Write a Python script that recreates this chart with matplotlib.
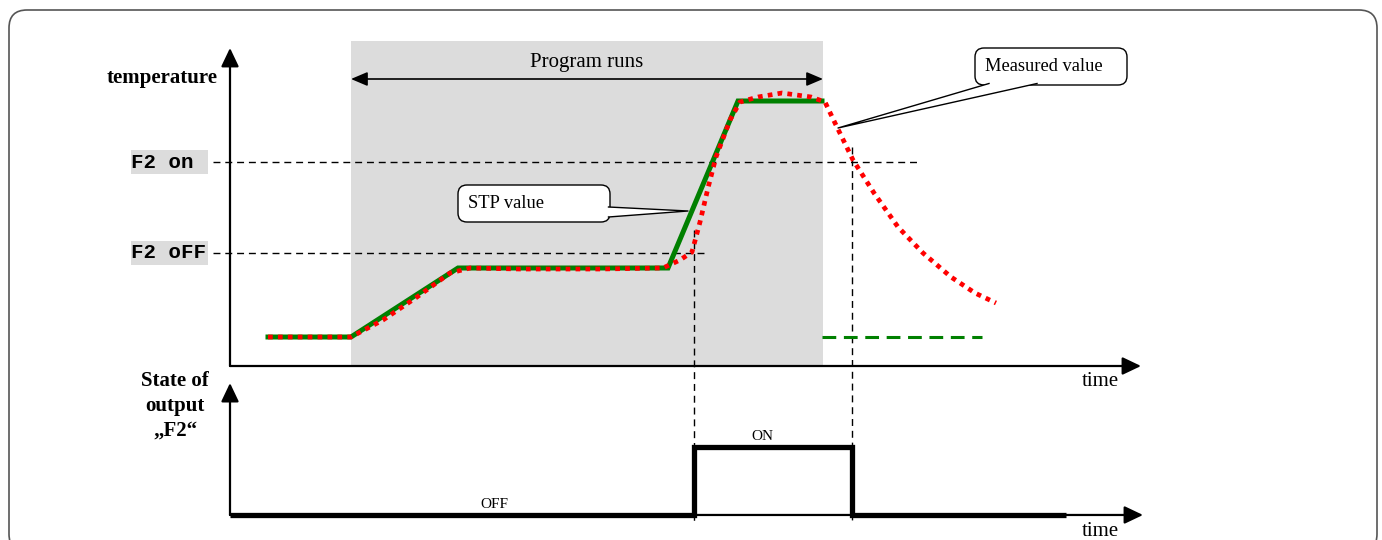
import matplotlib
matplotlib.use('Agg')
import matplotlib.pyplot as plt
from matplotlib.patches import Rectangle, FancyBboxPatch, Polygon

plt.rcParams['font.family'] = ['Liberation Serif', 'DejaVu Serif']

# set point (STP) profile: time / temperature (arbitrary units)
stp_t = [3.8, 12.1, 22.8, 43.8, 50.8, 59.2]
stp_T = [2.9, 2.9, 9.8, 9.8, 26.5, 26.5]
after_t = [59.2, 75.2]
after_T = [2.9, 2.9]

# measured value
meas_t = [3.8, 12.1, 15.3, 18.7, 22.0, 24.0, 29.0, 37.0, 43.3, 45.0, 46.2, 47.0,
          47.8, 48.6, 50.0, 51.0, 52.8, 55.2, 58.1, 59.5, 60.5, 62.3, 64.4, 66.8,
          69.3, 72.1, 74.5, 76.6]
meas_T = [2.9, 2.9, 4.6, 6.9, 9.3, 9.8, 9.7, 9.7, 9.8, 10.6, 11.4, 14.4,
          17.8, 20.9, 24.6, 26.4, 26.9, 27.3, 26.9, 26.4, 24.3, 20.6, 17.3, 13.9,
          11.3, 8.9, 7.3, 6.3]

f2_on = 20.4
f2_off = 11.3
prog_start, prog_end = 12.1, 59.3
switch_on, switch_off = 46.4, 62.2

# output F2 state
out_t = [0, switch_on, switch_on, switch_off, switch_off, 83.6]
out_s = [0, 0, 1, 1, 0, 0]

fig = plt.figure(figsize=(13.82, 5.4), dpi=100)
ax = fig.add_axes([0, 0, 1, 1])
ax.set_xlim(-23, 115.2)
ax.set_ylim(-17.4, 36.6)
ax.axis('off')

ax2 = fig.add_axes([0, 0, 1, 170 / 540])
ax2.set_xlim(-23, 115.2)
ax2.set_ylim(-0.368, 2.132)
ax2.axis('off')
ax2.patch.set_alpha(0)

# outer rounded frame
ax.add_patch(FancyBboxPatch((-22.1, -18.6), 136.8, 54.2,
                            boxstyle='round,pad=0,rounding_size=1.8',
                            fc='none', ec='#555555', lw=1.2, zorder=0))

# program running region
ax.add_patch(Rectangle((prog_start, 0), prog_end - prog_start, 32.5,
                       fc='#dcdcdc', ec='none', zorder=0.5))
ax.annotate('', xy=(prog_start, 28.7), xytext=(prog_end, 28.7),
            arrowprops=dict(arrowstyle='<|-|>,head_length=0.4,head_width=0.17',
                            mutation_scale=25, lw=1.2, color='black',
                            shrinkA=0, shrinkB=0), zorder=3)
ax.text((prog_start + prog_end) / 2, 30.4, 'Program runs', fontsize=15,
        ha='center', va='center')

# axes with arrows
arr = dict(arrowstyle='-|>,head_length=0.42,head_width=0.2', mutation_scale=27,
           lw=1.6, color='black', shrinkA=0, shrinkB=0)
ax.annotate('', xy=(0, 31.8), xytext=(0, 0), arrowprops=arr, zorder=4)
ax.annotate('', xy=(91.1, 0), xytext=(0, 0), arrowprops=arr, zorder=4)
ax2.annotate('', xy=(0, 1.94), xytext=(0, 0), arrowprops=arr, zorder=4)
ax2.annotate('', xy=(91.3, 0), xytext=(0, 0), arrowprops=arr, zorder=4)

ax.text(-1.2, 28.8, 'temperature', fontsize=15, fontweight='bold',
        ha='right', va='center')
ax.text(87, -1.6, 'time', fontsize=15, ha='center', va='center')
ax2.text(87, -0.25, 'time', fontsize=15, ha='center', va='center')
ax2.text(-5.5, 1.6, 'State of\noutput\n\u201eF2\u201c', fontsize=15, fontweight='bold',
         ha='center', va='center', ma='center', linespacing=1.32)

# threshold lines and labels
for lvl, lab, xend in [(f2_on, 'F2 on', 68.9), (f2_off, 'F2 oFF', 47.5)]:
    ax.add_patch(Rectangle((-9.9, lvl - 1.2), 7.7, 2.4, fc='#dcdcdc', ec='none', zorder=1))
    ax.text(-9.9, lvl, lab, family='Liberation Mono', fontweight='bold', fontsize=15,
            ha='left', va='center', zorder=2)
    ax.plot([-1.7, xend], [lvl, lvl], color='black', lw=1.0,
            linestyle=(0, (5, 3.5)), zorder=2)

# switching instants
ax.plot([switch_on, switch_on], [13.6, -15.6], color='black', lw=1.0,
        linestyle=(0, (5, 3.5)), zorder=2)
ax.plot([switch_off, switch_off], [21.9, -15.6], color='black', lw=1.0,
        linestyle=(0, (5, 3.5)), zorder=2)

# curves
ax.plot(stp_t, stp_T, color='#008000', lw=3.6, solid_joinstyle='miter', zorder=3)
ax.plot(after_t, after_T, color='#008000', lw=2.2, linestyle=(0, (4.5, 2.5)), zorder=3)
ax.plot(meas_t, meas_T, color='red', lw=3.4, linestyle=(0, (1, 1.1)), zorder=4)

# output state
ax2.plot(out_t, out_s, color='black', lw=3.8, solid_joinstyle='miter',
         solid_capstyle='butt', zorder=5)
ax2.text(53.2, 1.15, 'ON', fontsize=11, ha='center', va='center')
ax2.text(26.4, 0.16, 'OFF', fontsize=11, ha='center', va='center')


def callout(box, base, tip, text, tx, ty):
    x0, y0, w, h = box
    ax.add_patch(FancyBboxPatch((x0, y0), w, h, boxstyle='round,pad=0,rounding_size=0.9',
                                fc='white', ec='black', lw=1.0, zorder=6))
    ax.add_patch(Polygon([base[0], tip, base[1]], closed=True, fc='white', ec='none', zorder=7))
    ax.plot([base[0][0], tip[0], base[1][0]], [base[0][1], tip[1], base[1][1]],
            color='black', lw=1.0, zorder=7)
    ax.text(tx, ty, text, fontsize=13.3, ha='left', va='center', zorder=8)


callout((22.8, 14.4, 15.2, 3.7), [(37.85, 15.9), (37.85, 14.9)], (45.8, 15.5),
        'STP value', 23.8, 16.3)
callout((74.5, 28.1, 15.2, 3.7), [(75.9, 28.25), (80.7, 28.25)], (60.8, 23.8),
        'Measured value', 75.5, 29.95)

fig.savefig('out.png', dpi=100)
